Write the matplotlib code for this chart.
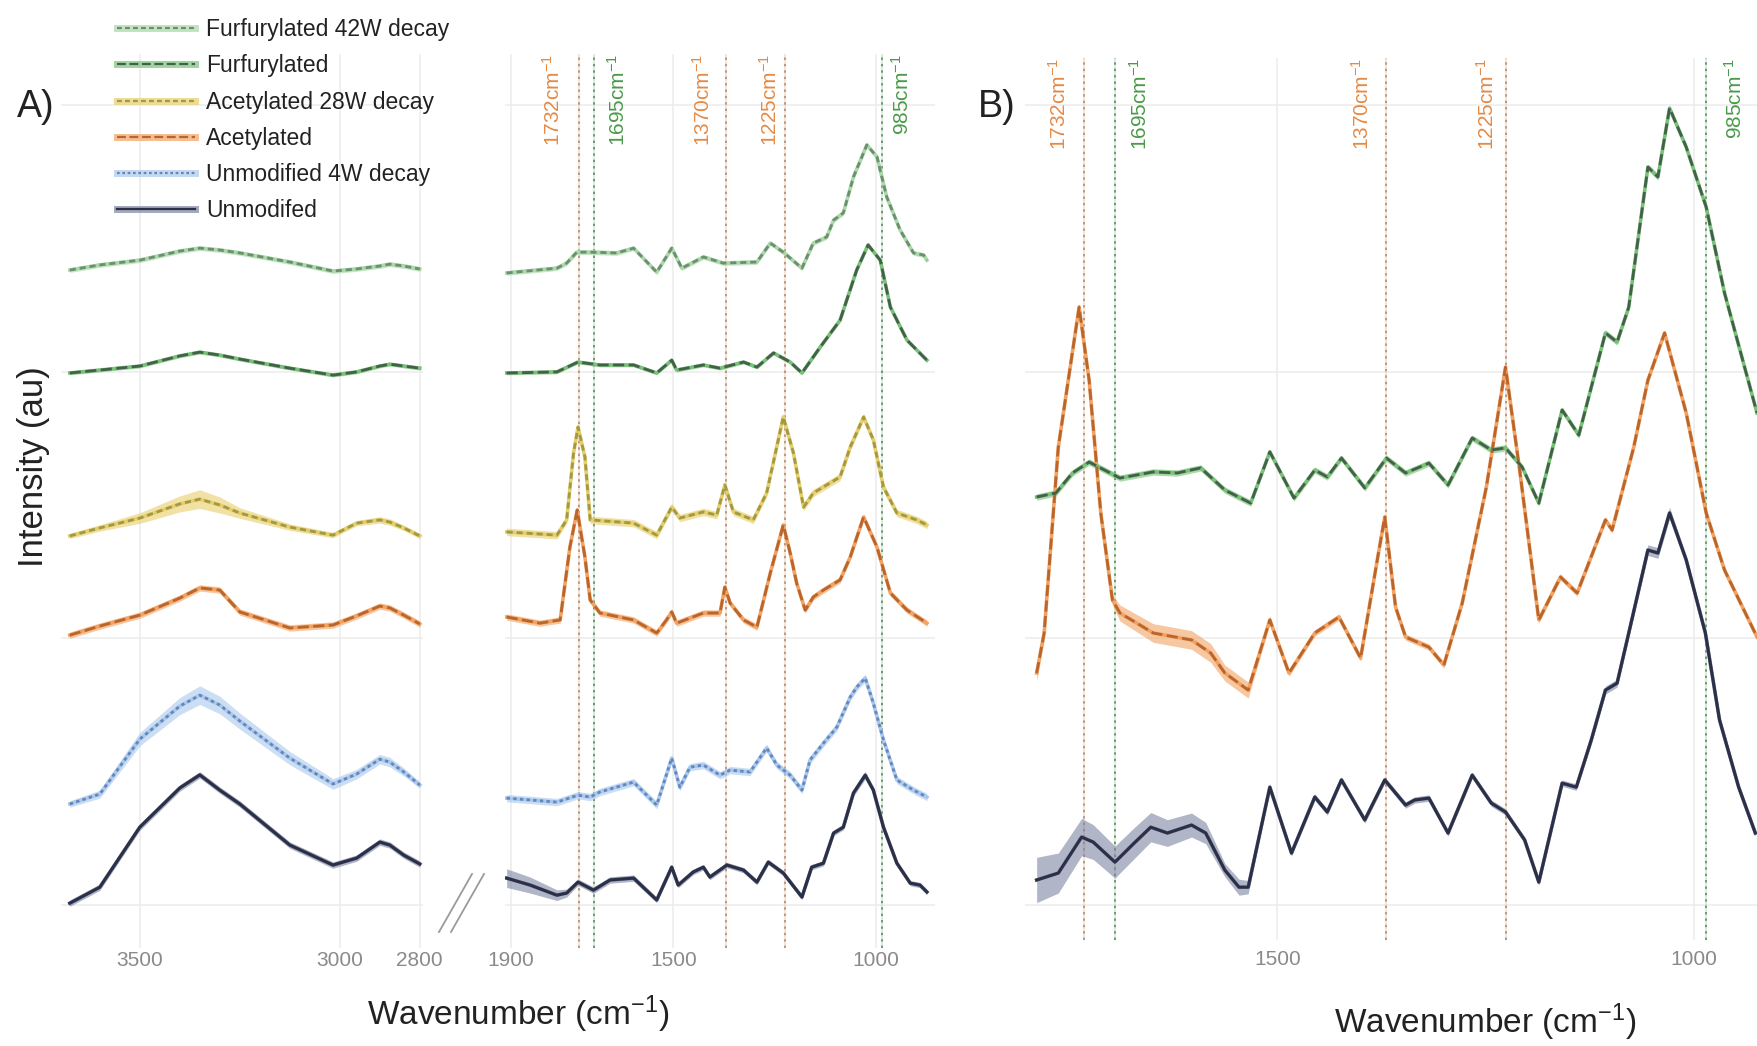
import numpy as np
import matplotlib
matplotlib.use("Agg")
import matplotlib.pyplot as plt
from matplotlib.lines import Line2D

plt.rcParams['font.family'] = ['Liberation Sans', 'DejaVu Sans']
plt.rcParams['mathtext.fontset'] = 'custom'
plt.rcParams['mathtext.rm'] = 'Liberation Sans'
plt.rcParams['mathtext.it'] = 'Liberation Sans:italic'
plt.rcParams['mathtext.bf'] = 'Liberation Sans:bold'

# ---------------- data (intensity, arbitrary units, stacked) ----------------
HI_WN = [3675, 3600, 3500, 3400, 3350, 3300, 3250, 3125, 3017, 2958, 2900, 2875, 2840, 2800]
HI_UNMOD = [0.007, 0.067, 0.292, 0.439, 0.488, 0.431, 0.379, 0.225, 0.150, 0.176, 0.236, 0.225, 0.187, 0.154]
HI_UNMOD4W = [0.379, 0.416, 0.622, 0.746, 0.787, 0.750, 0.690, 0.551, 0.454, 0.491, 0.547, 0.536, 0.499, 0.450]
HI_ACET = [1.012, 1.046, 1.087, 1.151, 1.189, 1.181, 1.099, 1.039, 1.050, 1.084, 1.121, 1.114, 1.087, 1.054]
HI_ACET28W = [1.384, 1.414, 1.451, 1.504, 1.522, 1.500, 1.470, 1.417, 1.387, 1.432, 1.444, 1.436, 1.414, 1.384]
HI_FURF = [1.995, 2.006, 2.021, 2.059, 2.073, 2.062, 2.047, 2.013, 1.987, 1.999, 2.021, 2.028, 2.021, 2.013]
HI_FURF42W = [2.381, 2.400, 2.418, 2.452, 2.463, 2.456, 2.445, 2.411, 2.377, 2.385, 2.396, 2.403, 2.396, 2.385]
HI_SD_UNMOD4W = [0.012, 0.015, 0.025, 0.032, 0.035, 0.033, 0.030, 0.025, 0.020, 0.018, 0.018, 0.018, 0.015, 0.012]
HI_SD_ACET28W = [0.010, 0.012, 0.020, 0.030, 0.035, 0.030, 0.020, 0.012, 0.010, 0.010, 0.012, 0.012, 0.010, 0.010]

FP_WN_UNMOD = [1911, 1853, 1787, 1763, 1735, 1697, 1656, 1598, 1541, 1504, 1488, 1451, 1426, 1410, 1368, 1327,
               1294, 1266, 1229, 1183, 1159, 1130, 1105, 1081, 1056, 1027, 1007, 982, 949, 916, 892, 875]
FP_UNMOD = [0.101, 0.075, 0.037, 0.045, 0.086, 0.056, 0.094, 0.101, 0.019, 0.142, 0.075, 0.124, 0.142, 0.105,
            0.150, 0.131, 0.086, 0.161, 0.120, 0.030, 0.142, 0.157, 0.270, 0.292, 0.420, 0.487, 0.431, 0.292,
            0.157, 0.082, 0.075, 0.049]
FP_SD_UNMOD = [0.035, 0.030, 0.020, 0.015, 0.012, 0.012, 0.012, 0.012, 0.010, 0.010, 0.010, 0.010, 0.010, 0.010,
               0.010, 0.010, 0.010, 0.010, 0.010, 0.010, 0.010, 0.010, 0.010, 0.010, 0.012, 0.014, 0.012, 0.010,
               0.010, 0.010, 0.010, 0.010]

FP_WN_UNMOD4W = [1911, 1787, 1735, 1705, 1681, 1598, 1541, 1504, 1484, 1459, 1426, 1385, 1360, 1311, 1270,
                 1245, 1212, 1183, 1163, 1130, 1097, 1064, 1048, 1027, 1007, 982, 949, 908, 875]
FP_UNMOD4W = [0.401, 0.386, 0.412, 0.405, 0.424, 0.461, 0.375, 0.551, 0.442, 0.517, 0.525, 0.487, 0.506, 0.499,
              0.589, 0.525, 0.487, 0.431, 0.544, 0.607, 0.667, 0.780, 0.817, 0.851, 0.757, 0.619, 0.469, 0.431,
              0.405]

FP_WN_ACET = [1911, 1829, 1779, 1755, 1737, 1718, 1705, 1681, 1598, 1541, 1517, 1504, 1492, 1426, 1385, 1373,
              1360, 1327, 1294, 1261, 1229, 1212, 1196, 1175, 1155, 1130, 1089, 1064, 1031, 998, 965, 924, 875]
FP_ACET = [1.080, 1.057, 1.069, 1.342, 1.481, 1.305, 1.144, 1.095, 1.069, 1.020, 1.069, 1.099, 1.057, 1.095,
           1.095, 1.192, 1.132, 1.069, 1.042, 1.245, 1.425, 1.320, 1.207, 1.106, 1.155, 1.181, 1.219, 1.305,
           1.455, 1.342, 1.170, 1.106, 1.057]

FP_WN_ACET28W = [1911, 1787, 1763, 1746, 1735, 1718, 1705, 1598, 1541, 1504, 1484, 1426, 1393, 1373, 1352,
                 1303, 1270, 1229, 1204, 1179, 1155, 1089, 1064, 1031, 1007, 982, 949, 900, 875]
FP_ACET28W = [1.399, 1.387, 1.444, 1.695, 1.792, 1.680, 1.444, 1.432, 1.387, 1.492, 1.451, 1.474, 1.462, 1.575,
              1.474, 1.444, 1.545, 1.830, 1.695, 1.492, 1.545, 1.605, 1.717, 1.830, 1.744, 1.567, 1.470, 1.444,
              1.425]

FP_WN_FURF = [1911, 1787, 1735, 1681, 1598, 1541, 1504, 1492, 1426, 1385, 1327, 1294, 1253, 1212, 1183, 1138,
              1089, 1048, 1020, 990, 965, 924, 875]
FP_FURF = [1.995, 1.999, 2.036, 2.025, 2.025, 1.995, 2.043, 2.006, 2.025, 2.013, 2.036, 2.017, 2.070, 2.036,
           1.995, 2.092, 2.193, 2.381, 2.475, 2.418, 2.242, 2.118, 2.043]

FP_WN_FURF42W = [1911, 1787, 1763, 1738, 1705, 1640, 1598, 1541, 1504, 1479, 1426, 1377, 1294, 1261, 1229,
                 1183, 1155, 1122, 1105, 1081, 1056, 1023, 998, 974, 941, 908, 883, 875]
FP_FURF42W = [2.370, 2.388, 2.407, 2.448, 2.448, 2.445, 2.463, 2.373, 2.463, 2.388, 2.430, 2.407, 2.411, 2.482,
              2.448, 2.388, 2.482, 2.505, 2.568, 2.595, 2.730, 2.850, 2.805, 2.655, 2.531, 2.445, 2.437, 2.418]

B_WN_UNMOD = [1789, 1763, 1735, 1721, 1695, 1672, 1652, 1632, 1603, 1586, 1563, 1546, 1535, 1509, 1483, 1455,
              1440, 1423, 1395, 1371, 1346, 1335, 1318, 1295, 1266, 1243, 1226, 1203, 1186, 1158, 1141, 1123,
              1106, 1092, 1078, 1055, 1043, 1029, 1009, 986, 969, 946, 926]
B_UNMOD = [0.094, 0.120, 0.255, 0.236, 0.161, 0.232, 0.292, 0.270, 0.300, 0.270, 0.131, 0.067, 0.067, 0.442,
           0.195, 0.405, 0.349, 0.469, 0.319, 0.469, 0.375, 0.394, 0.401, 0.270, 0.487, 0.382, 0.349, 0.244,
           0.086, 0.457, 0.442, 0.619, 0.806, 0.832, 1.020, 1.331, 1.320, 1.470, 1.294, 1.020, 0.694, 0.442,
           0.270]
B_SD_UNMOD = [0.085, 0.075, 0.070, 0.065, 0.060, 0.058, 0.055, 0.050, 0.045, 0.040, 0.025, 0.030, 0.025, 0.012,
              0.012, 0.012, 0.012, 0.012, 0.012, 0.012, 0.012, 0.012, 0.012, 0.012, 0.012, 0.012, 0.012, 0.012,
              0.012, 0.012, 0.012, 0.015, 0.015, 0.015, 0.015, 0.020, 0.020, 0.022, 0.015, 0.012, 0.012, 0.012,
              0.012]

B_WN_ACET = [1789, 1780, 1763, 1738, 1726, 1712, 1698, 1689, 1649, 1603, 1580, 1563, 1535, 1509, 1486, 1455,
             1426, 1400, 1380, 1371, 1358, 1346, 1318, 1300, 1278, 1249, 1226, 1209, 1186, 1160, 1140, 1106,
             1098, 1072, 1055, 1035, 1009, 985, 963, 924]
B_ACET = [0.870, 1.020, 1.717, 2.242, 1.968, 1.470, 1.144, 1.095, 1.020, 0.994, 0.945, 0.870, 0.806, 1.069,
          0.870, 1.020, 1.080, 0.926, 1.294, 1.455, 1.117, 1.005, 0.967, 0.900, 1.132, 1.567, 2.017, 1.631,
          1.069, 1.230, 1.170, 1.444, 1.406, 1.717, 1.968, 2.145, 1.845, 1.470, 1.256, 1.005]
B_SD_ACET = [0.030, 0.025, 0.015, 0.015, 0.015, 0.015, 0.020, 0.030, 0.035, 0.035, 0.035, 0.030, 0.030, 0.015,
             0.012, 0.012, 0.012, 0.012, 0.012, 0.012, 0.012, 0.012, 0.012, 0.012, 0.012, 0.012, 0.012, 0.012,
             0.012, 0.012, 0.012, 0.012, 0.012, 0.012, 0.012, 0.012, 0.012, 0.012, 0.012, 0.012]

B_WN_FURF = [1789, 1766, 1746, 1726, 1689, 1649, 1620, 1592, 1563, 1532, 1509, 1480, 1455, 1440, 1423, 1395,
             1369, 1346, 1318, 1295, 1266, 1243, 1226, 1206, 1186, 1158, 1138, 1106, 1092, 1078, 1055, 1043,
             1029, 1009, 985, 963, 924]
B_FURF = [1.530, 1.545, 1.620, 1.661, 1.601, 1.624, 1.620, 1.639, 1.556, 1.507, 1.699, 1.526, 1.631, 1.605,
          1.676, 1.564, 1.676, 1.620, 1.657, 1.575, 1.751, 1.706, 1.714, 1.642, 1.507, 1.856, 1.762, 2.145,
          2.111, 2.242, 2.767, 2.730, 2.988, 2.842, 2.617, 2.295, 1.845]

# constant band half-widths (standard deviation) where not given per point
SD_A = {'unmod': 0.012, 'unmod4w': 0.014, 'acet': 0.012, 'acet28w': 0.014, 'furf': 0.007, 'furf42w': 0.009}
SD_B_FURF = 0.012

LABELS = ['Furfurylated 42W decay', 'Furfurylated', 'Acetylated 28W decay', 'Acetylated',
          'Unmodified 4W decay', 'Unmodifed']
KEYS = ['furf42w', 'furf', 'acet28w', 'acet', 'unmod4w', 'unmod']

PEAK_WN = [1732, 1695, 1370, 1225, 985]
PEAK_KIND = ['acet', 'furf', 'acet', 'acet', 'furf']
PEAK_LABEL_WN_A = [1797, 1636, 1427, 1261, 936]
PEAK_LABEL_WN_B = [1762, 1665, 1398, 1249, 950]

# ---------------- styles ----------------
STYLE = {
    'unmod':   dict(band='#7c84a2', line='#2c3046', ls='-', lw=2.2),
    'unmod4w': dict(band='#a9c8ee', line='#6586b8', ls=(0, (1.2, 1.2)), lw=2.0),
    'acet':    dict(band='#f2a262', line='#b9652b', ls=(0, (4, 1.6)), lw=2.0),
    'acet28w': dict(band='#e9cd68', line='#9d9a48', ls=(0, (2.2, 1.4)), lw=2.0),
    'furf':    dict(band='#78c278', line='#45604a', ls=(0, (4, 1.6)), lw=2.0),
    'furf42w': dict(band='#a9d8a9', line='#6d8f70', ls=(0, (2.2, 1.4)), lw=2.0),
}
VCOL = {'acet': ('#f7c39a', '#a08a7a'), 'furf': ('#a8dba8', '#5a8460')}
TXTCOL = {'acet': '#e58a45', 'furf': '#4a9a48'}

W, H = 1757, 1046
fig = plt.figure(figsize=(W / 100, H / 100), dpi=100)
fig.patch.set_facecolor('white')


def add_ax(x0, x1, y0, y1):
    return fig.add_axes([x0 / W, 1 - y1 / H, (x1 - x0) / W, (y1 - y0) / H])


def style_ax(ax, xlim, ylim, xticks, pad):
    ax.set_xlim(*xlim)
    ax.set_ylim(*ylim)
    ax.set_xticks(xticks)
    ax.set_yticks([0, 1, 2, 3])
    ax.set_yticklabels([])
    ax.grid(True, color='#ececec', lw=1.1)
    ax.set_axisbelow(True)
    for s in ax.spines.values():
        s.set_visible(False)
    ax.tick_params(length=0, labelsize=15, labelcolor='#8a8a8a', pad=pad)


def draw(ax, wn, y, key, sd):
    st = STYLE[key]
    y = np.asarray(y, dtype=float)
    sd = np.asarray(sd, dtype=float)
    ax.fill_between(wn, y - sd, y + sd, color=st['band'], alpha=0.6, lw=0, zorder=3)
    ax.plot(wn, y, color=st['band'], lw=2.6, zorder=3.5, solid_joinstyle='round')
    ax.plot(wn, y, color=st['line'], lw=st['lw'], ls=st['ls'], zorder=4)


def vlines(ax, label_wn, top_frac):
    for wn, kind, lw_ in zip(PEAK_WN, PEAK_KIND, label_wn):
        light, dark = VCOL[kind]
        ax.axvline(wn, color=light, lw=1.5, alpha=0.45, zorder=2)
        ax.axvline(wn, color=dark, lw=1.15, ls=(0, (1.5, 2.5)), zorder=2.1)
        ax.text(lw_, top_frac, f'{wn}cm$^{{-1}}$', rotation=90, ha='center', va='top',
                color=TXTCOL[kind], fontsize=15, transform=ax.get_xaxis_transform())


# Panel A: broken axis
axL = add_ax(61, 423, 54, 948)
axR = add_ax(505, 935, 54, 948)
YL_A = (-0.161, 3.191)
style_ax(axL, (3697, 2792), YL_A, [3500, 3000, 2800], 2)
style_ax(axR, (1915, 855), YL_A, [1900, 1500, 1000], 2)

HI = {'unmod': HI_UNMOD, 'unmod4w': HI_UNMOD4W, 'acet': HI_ACET, 'acet28w': HI_ACET28W,
      'furf': HI_FURF, 'furf42w': HI_FURF42W}
HI_SD = {'unmod4w': HI_SD_UNMOD4W, 'acet28w': HI_SD_ACET28W}
FP = {'unmod': (FP_WN_UNMOD, FP_UNMOD), 'unmod4w': (FP_WN_UNMOD4W, FP_UNMOD4W),
      'acet': (FP_WN_ACET, FP_ACET), 'acet28w': (FP_WN_ACET28W, FP_ACET28W),
      'furf': (FP_WN_FURF, FP_FURF), 'furf42w': (FP_WN_FURF42W, FP_FURF42W)}
FP_SD = {'unmod': FP_SD_UNMOD}
for k in KEYS[::-1]:
    draw(axL, HI_WN, HI[k], k, HI_SD.get(k, SD_A[k]))
    draw(axR, FP[k][0], FP[k][1], k, FP_SD.get(k, SD_A[k]))
vlines(axR, PEAK_LABEL_WN_A, 1.0)

# Panel B
axB = add_ax(1025, 1757, 58, 940)
style_ax(axB, (1803, 924), (-0.131, 3.176), [1500, 1000], 7)
draw(axB, B_WN_UNMOD, B_UNMOD, 'unmod', B_SD_UNMOD)
draw(axB, B_WN_ACET, B_ACET, 'acet', B_SD_ACET)
draw(axB, B_WN_FURF, B_FURF, 'furf', SD_B_FURF)
vlines(axB, PEAK_LABEL_WN_B, 1.0)

# break marks
for dx in (0, 12):
    fig.add_artist(Line2D([(439 + dx) / W, (472 + dx) / W], [1 - 932 / H, 1 - 874 / H],
                          transform=fig.transFigure, color='#9a9a9a', lw=1.3))

# labels
fig.text(518 / W, 1 - 1014 / H, r'Wavenumber (cm$^{-1}$)', ha='center', va='center', fontsize=24, color='#222222')
fig.text(1485 / W, 1 - 1022 / H, r'Wavenumber (cm$^{-1}$)', ha='center', va='center', fontsize=24, color='#222222')
fig.text(34 / W, 1 - 467 / H, 'Intensity (au)', rotation=90, ha='center', va='center', fontsize=25, color='#222222')
fig.text(17 / W, 1 - 117 / H, 'A)', ha='left', va='baseline', fontsize=27, color='#222222')
fig.text(978 / W, 1 - 117 / H, 'B)', ha='left', va='baseline', fontsize=27, color='#222222')

# legend
handles = []
for k in KEYS:
    st = STYLE[k]
    handles.append((Line2D([], [], color=st['band'], lw=5, alpha=0.7),
                    Line2D([], [], color=st['line'], lw=1.6, ls=st['ls'])))
fig.legend(handles, LABELS, loc='upper left', bbox_to_anchor=(117 / W, 1 - 18 / H), frameon=False,
           fontsize=16.5, handlelength=3.4, handletextpad=0.5, labelspacing=0.58, borderpad=0,
           borderaxespad=0, labelcolor='#222222')

fig.savefig('out.png', dpi=100, facecolor='white')
